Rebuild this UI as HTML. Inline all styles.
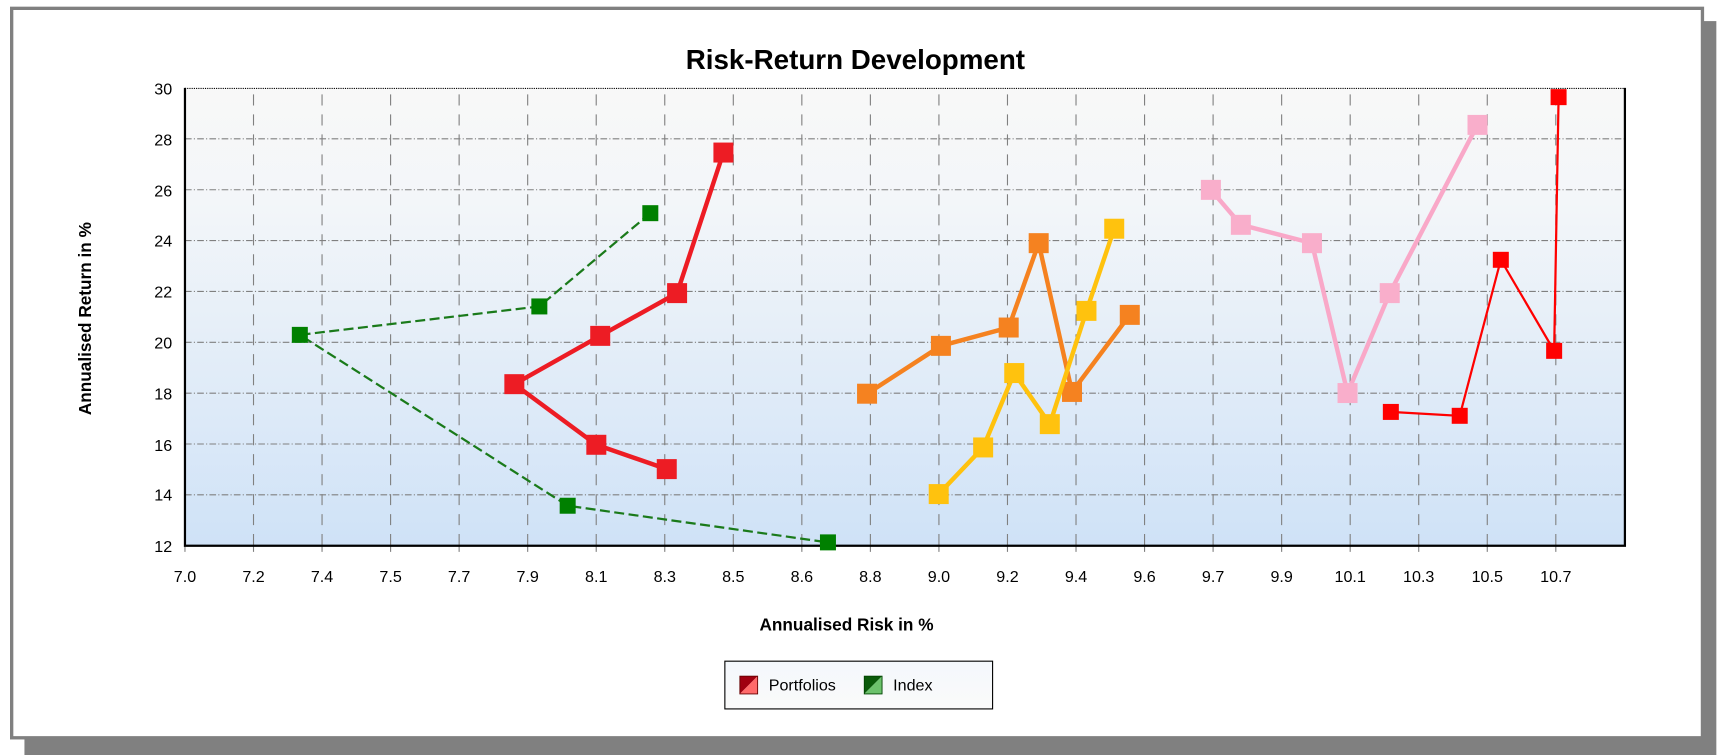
<!DOCTYPE html>
<html><head><meta charset="utf-8"><style>
html,body{margin:0;padding:0;background:#fff;width:1733px;height:755px;overflow:hidden}
svg{display:block;font-family:"Liberation Sans",Arial,sans-serif}
</style></head><body>
<svg width="1733" height="755" viewBox="0 0 1560 680" preserveAspectRatio="none">
<defs>
<linearGradient id="bg" x1="0" y1="0" x2="0" y2="1">
<stop offset="0" stop-color="#f8f8f8"/><stop offset="0.25" stop-color="#f3f6f9"/><stop offset="1" stop-color="#cfe2f7"/>
</linearGradient>
<linearGradient id="lg" x1="0" y1="0" x2="0" y2="1">
<stop offset="0" stop-color="#f4f8fc"/><stop offset="1" stop-color="#fafafa"/>
</linearGradient>
</defs>
<rect x="22" y="19" width="1523" height="661" fill="#808080"/>
<rect x="10.5" y="7.5" width="1522" height="657" fill="#fff" stroke="#808080" stroke-width="3"/>
<text x="770" y="62" font-size="25" font-weight="bold" text-anchor="middle">Risk-Return Development</text>
<rect x="166.5" y="79.2" width="1296" height="412.3" fill="url(#bg)"/>
<g stroke="#808080" stroke-width="1" fill="none">
<g stroke-dasharray="6,2,1,2">
<line x1="166.5" x2="1462.7" y1="125" y2="125"/><line x1="166.5" x2="1462.7" y1="170.9" y2="170.9"/>
<line x1="166.5" x2="1462.7" y1="216.7" y2="216.7"/><line x1="166.5" x2="1462.7" y1="262.5" y2="262.5"/>
<line x1="166.5" x2="1462.7" y1="308.3" y2="308.3"/><line x1="166.5" x2="1462.7" y1="354.1" y2="354.1"/>
<line x1="166.5" x2="1462.7" y1="399.9" y2="399.9"/><line x1="166.5" x2="1462.7" y1="445.7" y2="445.7"/>
</g>
<g stroke-dasharray="10,8">
<path d="M228.2 85V497M289.9 85V497M351.6 85V497M413.3 85V497M475 85V497M536.7 85V497M598.4 85V497M660.1 85V497M721.8 85V497M783.5 85V497M845.2 85V497M906.9 85V497M968.6 85V497M1030.3 85V497M1092 85V497M1153.7 85V497M1215.4 85V497M1277.1 85V497M1338.8 85V497M1400.5 85V497"/>
</g>
<path d="M228.2 491V497M289.9 491V497M351.6 491V497M413.3 491V497M475 491V497M536.7 491V497M598.4 491V497M660.1 491V497M721.8 491V497M783.5 491V497M845.2 491V497M906.9 491V497M968.6 491V497M1030.3 491V497M1092 491V497M1153.7 491V497M1215.4 491V497M1277.1 491V497M1338.8 491V497M1400.5 491V497M166.5 491V497"/>
</g>
<line x1="166.5" x2="1462.7" y1="79.7" y2="79.7" stroke="#000" stroke-dasharray="1,1"/>
<path d="M166.5 79.2V491.5H1462.7V79.2" fill="none" stroke="#000" stroke-width="2"/>
<g font-size="14.5" text-anchor="end">
<text x="155" y="85">30</text><text x="155" y="131">28</text><text x="155" y="177">26</text><text x="155" y="222">24</text>
<text x="155" y="268">22</text><text x="155" y="314">20</text><text x="155" y="360">18</text><text x="155" y="406">16</text>
<text x="155" y="451">14</text><text x="155" y="497">12</text>
</g>
<g font-size="14.5" text-anchor="middle">
<text x="166.5" y="524">7.0</text><text x="228.2" y="524">7.2</text><text x="289.9" y="524">7.4</text><text x="351.6" y="524">7.5</text>
<text x="413.3" y="524">7.7</text><text x="475" y="524">7.9</text><text x="536.7" y="524">8.1</text><text x="598.4" y="524">8.3</text>
<text x="660.1" y="524">8.5</text><text x="721.8" y="524">8.6</text><text x="783.5" y="524">8.8</text><text x="845.2" y="524">9.0</text>
<text x="906.9" y="524">9.2</text><text x="968.6" y="524">9.4</text><text x="1030.3" y="524">9.6</text><text x="1092" y="524">9.7</text>
<text x="1153.7" y="524">9.9</text><text x="1215.4" y="524">10.1</text><text x="1277.1" y="524">10.3</text><text x="1338.8" y="524">10.5</text>
<text x="1400.5" y="524">10.7</text>
</g>
<text x="762" y="568" font-size="15.5" font-weight="bold" text-anchor="middle">Annualised Risk in %</text>
<text transform="translate(82,287) rotate(-90)" font-size="15.5" font-weight="bold" text-anchor="middle">Annualised Return in %</text>
<!-- green index -->
<polyline points="585.4,192 485.5,276 269.9,301.6 511,455.5 745.3,488.5" fill="none" stroke="#1a7a1a" stroke-width="2" stroke-dasharray="9,4"/>
<g fill="#008000">
<rect x="578.2" y="184.8" width="14.4" height="14.4"/><rect x="478.3" y="268.8" width="14.4" height="14.4"/><rect x="262.7" y="294.4" width="14.4" height="14.4"/><rect x="503.8" y="448.3" width="14.4" height="14.4"/><rect x="738.1" y="481.3" width="14.4" height="14.4"/>
</g>
<!-- red thick -->
<polyline points="651.2,137.4 609.5,264 540.3,302.5 463,346 536.8,400.6 600.2,422.5" fill="none" stroke="#ed1c24" stroke-width="4"/>
<g fill="#ed1c24"><rect x="642.2" y="128.4" width="18" height="18"/><rect x="600.5" y="255" width="18" height="18"/><rect x="531.3" y="293.5" width="18" height="18"/><rect x="454" y="337" width="18" height="18"/><rect x="527.8" y="391.6" width="18" height="18"/><rect x="591.2" y="413.5" width="18" height="18"/></g>
<!-- orange -->
<polyline points="780.5,354.6 847,311.5 908,295 935,219 965,353 1017,283.6" fill="none" stroke="#f58220" stroke-width="4"/>
<g fill="#f58220"><rect x="771.5" y="345.6" width="18" height="18"/><rect x="838" y="302.5" width="18" height="18"/><rect x="899" y="286" width="18" height="18"/><rect x="926" y="210" width="18" height="18"/><rect x="956" y="344" width="18" height="18"/><rect x="1008" y="274.6" width="18" height="18"/></g>
<!-- yellow -->
<polyline points="845,445 885,403 913,336 945,382 978,280 1003,206" fill="none" stroke="#ffc20e" stroke-width="4"/>
<g fill="#ffc20e"><rect x="836" y="436" width="18" height="18"/><rect x="876" y="394" width="18" height="18"/><rect x="904" y="327" width="18" height="18"/><rect x="936" y="373" width="18" height="18"/><rect x="969" y="271" width="18" height="18"/><rect x="994" y="197" width="18" height="18"/></g>
<!-- pink -->
<polyline points="1090,171 1117,202.5 1181,219 1213,354 1251,264 1330,112.5" fill="none" stroke="#f9a8c8" stroke-width="4"/>
<g fill="#f9aecb"><rect x="1081" y="162" width="18" height="18"/><rect x="1108" y="193.5" width="18" height="18"/><rect x="1172" y="210" width="18" height="18"/><rect x="1204" y="345" width="18" height="18"/><rect x="1242" y="255" width="18" height="18"/><rect x="1321" y="103.5" width="18" height="18"/></g>
<!-- red thin -->
<polyline points="1252,371 1314,374.5 1351,234 1399,316 1403,87.5" fill="none" stroke="#ff0000" stroke-width="2"/>
<g fill="#ff0000"><rect x="1244.8" y="363.8" width="14.4" height="14.4"/><rect x="1306.8" y="367.3" width="14.4" height="14.4"/><rect x="1343.8" y="226.8" width="14.4" height="14.4"/><rect x="1391.8" y="308.8" width="14.4" height="14.4"/><rect x="1395.8" y="80.3" width="14.4" height="14.4"/></g>
<!-- legend -->
<rect x="652.5" y="595.5" width="241" height="43" fill="url(#lg)" stroke="#000" stroke-width="1"/>
<polygon points="666,609 682,609 666,625" fill="#a00010"/><polygon points="682,609 682,625 666,625" fill="#ff6a6a"/>
<rect x="666" y="609" width="16" height="16" fill="none" stroke="#600" stroke-width="0.8"/>
<text x="692" y="622" font-size="14.5">Portfolios</text>
<polygon points="778,609 794,609 778,625" fill="#0a5a0a"/><polygon points="794,609 794,625 778,625" fill="#6cc26c"/>
<rect x="778" y="609" width="16" height="16" fill="none" stroke="#040" stroke-width="0.8"/>
<text x="804" y="622" font-size="14.5">Index</text>
</svg>
</body></html>
